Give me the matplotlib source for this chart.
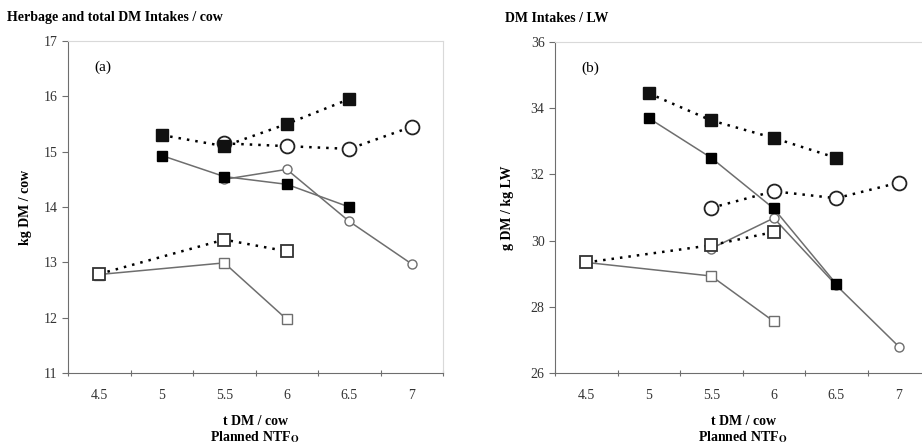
import matplotlib
matplotlib.use('Agg')
import matplotlib.pyplot as plt

plt.rcParams['font.family'] = ['Liberation Serif', 'DejaVu Serif']
plt.rcParams['mathtext.fontset'] = 'stix'

# x categories (planned NTF, t DM / cow)
xticks = [4.5, 5, 5.5, 6, 6.5, 7]
xlabels = ['4.5', '5', '5.5', '6', '6.5', '7']

# (a) kg DM / cow
a_fill_dot_x = [5, 5.5, 6, 6.5]
a_fill_dot_y = [15.3, 15.1, 15.5, 15.95]
a_circ_dot_x = [5.5, 6, 6.5, 7]
a_circ_dot_y = [15.15, 15.1, 15.05, 15.45]
a_fill_sol_x = [5, 5.5, 6, 6.5]
a_fill_sol_y = [14.93, 14.55, 14.41, 14.0]
a_circ_sol_x = [5.5, 6, 6.5, 7]
a_circ_sol_y = [14.5, 14.68, 13.74, 12.97]
a_sq_dot_x = [4.5, 5.5, 6]
a_sq_dot_y = [12.79, 13.41, 13.2]
a_sq_sol_x = [4.5, 5.5, 6]
a_sq_sol_y = [12.78, 12.99, 11.97]

# (b) g DM / kg LW
b_fill_dot_x = [5, 5.5, 6, 6.5]
b_fill_dot_y = [34.45, 33.63, 33.1, 32.5]
b_circ_dot_x = [5.5, 6, 6.5, 7]
b_circ_dot_y = [30.99, 31.49, 31.28, 31.75]
b_fill_sol_x = [5, 5.5, 6, 6.5]
b_fill_sol_y = [33.7, 32.5, 30.97, 28.69]
b_circ_sol_x = [5.5, 6, 6.5, 7]
b_circ_sol_y = [29.76, 30.68, 28.65, 26.8]
b_sq_dot_x = [4.5, 5.5, 6]
b_sq_dot_y = [29.34, 29.86, 30.26]
b_sq_sol_x = [4.5, 5.5, 6]
b_sq_sol_y = [29.34, 28.93, 27.56]

GREY = '#6e6e6e'
DOT = (0, (1, 2.4))


def draw(ax, d):
    (fdx, fdy, cdx, cdy, fsx, fsy, csx, csy, qdx, qdy, qsx, qsy) = d
    # solid series (small markers, grey lines)
    ax.plot(qsx, qsy, '-', color=GREY, lw=1.1, marker='s', ms=6.5,
            mfc='white', mec=GREY, mew=1.0, zorder=3)
    ax.plot(csx, csy, '-', color=GREY, lw=1.1, marker='o', ms=6.5,
            mfc='white', mec=GREY, mew=1.0, zorder=3)
    ax.plot(fsx, fsy, '-', color=GREY, lw=1.1, marker='s', ms=6.5,
            mfc='black', mec='black', zorder=4)
    # dotted series (large markers, black dotted lines)
    ax.plot(qdx, qdy, linestyle=DOT, color='black', lw=1.8, marker='s', ms=9,
            mfc='white', mec='#333333', mew=1.3, zorder=5)
    ax.plot(cdx, cdy, linestyle=DOT, color='black', lw=1.8, marker='o', ms=10,
            mfc='white', mec='#222222', mew=1.3, zorder=5)
    ax.plot(fdx, fdy, linestyle=DOT, color='black', lw=1.8, marker='s', ms=9,
            mfc='#111111', mec='#111111', zorder=6)

    ax.set_xlim(4.25, 7.25)
    ax.set_xticks([4.25 + 0.5 * k for k in range(7)])
    ax.set_xticklabels([])
    ax.tick_params(axis='x', direction='inout', length=5, color=GREY)
    for xv, lab in zip(xticks, xlabels):
        ax.text(xv, -0.067, lab, transform=ax.get_xaxis_transform(),
                ha='center', va='center', fontsize=10, color='#333333')
    ax.tick_params(axis='y', direction='out', length=4, color=GREY,
                   labelsize=10, labelcolor='#333333')
    ax.spines['left'].set_color(GREY)
    ax.spines['bottom'].set_color(GREY)
    ax.spines['top'].set_color('#d9d9d9')
    ax.spines['right'].set_color('#d9d9d9')


fig = plt.figure(figsize=(9.22, 4.48), dpi=100)

ax1 = fig.add_axes([68 / 922, 1 - 373 / 448, 375 / 922, 332 / 448])
draw(ax1, (a_fill_dot_x, a_fill_dot_y, a_circ_dot_x, a_circ_dot_y,
           a_fill_sol_x, a_fill_sol_y, a_circ_sol_x, a_circ_sol_y,
           a_sq_dot_x, a_sq_dot_y, a_sq_sol_x, a_sq_sol_y))
ax1.set_ylim(11, 17)
ax1.set_yticks(range(11, 18))
ax1.text(0.07, 0.91, '(a)', transform=ax1.transAxes, fontsize=11)
ax1.set_ylabel('kg DM / cow', fontsize=10, fontweight='bold', labelpad=8)

ax2 = fig.add_axes([555 / 922, 1 - 373 / 448, 375 / 922, 331 / 448])
draw(ax2, (b_fill_dot_x, b_fill_dot_y, b_circ_dot_x, b_circ_dot_y,
           b_fill_sol_x, b_fill_sol_y, b_circ_sol_x, b_circ_sol_y,
           b_sq_dot_x, b_sq_dot_y, b_sq_sol_x, b_sq_sol_y))
ax2.set_ylim(26, 36)
ax2.set_yticks(range(26, 37, 2))
ax2.text(0.07, 0.91, '(b)', transform=ax2.transAxes, fontsize=11)
ax2.set_ylabel('g DM / kg LW', fontsize=10, fontweight='bold', labelpad=12)

fig.text(7 / 922, 1 - 18 / 448, 'Herbage and total DM Intakes / cow',
         fontsize=10, fontweight='bold', va='center')
fig.text(505 / 922, 1 - 18 / 448, 'DM Intakes / LW',
         fontsize=10, fontweight='bold', va='center')

for cx in (255, 743):
    fig.text(cx / 922, 1 - 421 / 448, 't DM / cow', fontsize=10,
             fontweight='bold', ha='center', va='center')
    fig.text(cx / 922, 1 - 437 / 448, r'Planned NTF$_\mathbf{O}$', fontsize=10,
             fontweight='bold', ha='center', va='center')

fig.savefig('out.png', dpi=100)
